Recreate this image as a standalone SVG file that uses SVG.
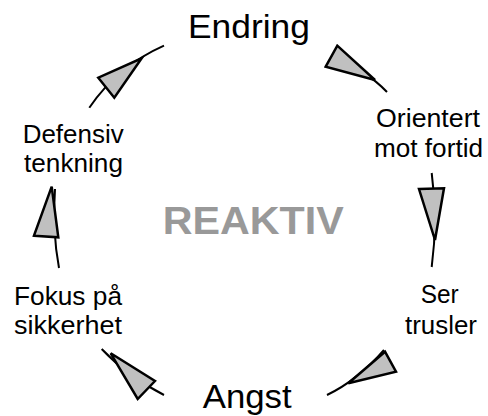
<svg xmlns="http://www.w3.org/2000/svg" width="488" height="416" viewBox="0 0 488 416">
<style>
text{font-family:"Liberation Sans",Arial,sans-serif;fill:#000}
.big{font-size:33px}
.lbl{font-size:25px}
.title{font-size:38px;font-weight:bold;fill:#999999}
.arc{fill:none;stroke:#000;stroke-width:2}
.head{fill:#c0c0c0;stroke:#000;stroke-width:2.5;stroke-linejoin:miter}
</style>
<rect width="488" height="416" fill="#fff"/>
<g id="connectors">
<path class="arc" d="M331,56 Q366,70 387,92"/>
<polygon class="head" points="325.7,66.7 337.3,45.7 375,80"/>
<path class="arc" d="M431.7,173 Q438,220 431.7,267"/>
<polygon class="head" points="419,189 444,188.3 435,240"/>
<path class="arc" d="M384,350 Q358,380 327,395"/>
<polygon class="head" points="385,351.7 396,371.7 348.3,383.3"/>
<path class="arc" d="M164,395 Q127,376 101.7,349"/>
<polygon class="head" points="155,381 137.7,399 110.7,353.3"/>
<path class="arc" d="M59,268 Q52,230 55,189"/>
<polygon class="head" points="34,235.7 58.3,237.3 51.7,186.7"/>
<path class="arc" d="M89.3,107.7 Q118,66 164,45.7"/>
<polygon class="head" points="98.3,77.7 114.3,97.7 141.7,58.3"/>
</g>
<g id="endring"><text class="big" x="188" y="38" textLength="122" lengthAdjust="spacingAndGlyphs">Endring</text></g>
<g id="orientert"><text class="lbl" x="376" y="127" textLength="104" lengthAdjust="spacingAndGlyphs">Orientert</text><text class="lbl" x="374" y="157" textLength="109" lengthAdjust="spacingAndGlyphs">mot fortid</text></g>
<g id="ser-trusler"><text class="lbl" x="420.7" y="303" textLength="38" lengthAdjust="spacingAndGlyphs">Ser</text><text class="lbl" x="405" y="334" textLength="72" lengthAdjust="spacingAndGlyphs">trusler</text></g>
<g id="angst"><text class="big" x="202.7" y="408" textLength="89" lengthAdjust="spacingAndGlyphs">Angst</text></g>
<g id="fokus"><text class="lbl" x="14" y="305" textLength="108" lengthAdjust="spacingAndGlyphs">Fokus på</text><text class="lbl" x="14" y="334" textLength="108" lengthAdjust="spacingAndGlyphs">sikkerhet</text></g>
<g id="defensiv"><text class="lbl" x="22.7" y="143" textLength="101" lengthAdjust="spacingAndGlyphs">Defensiv</text><text class="lbl" x="24" y="171.5" textLength="99" lengthAdjust="spacingAndGlyphs">tenkning</text></g>
<g id="reaktiv"><text class="title" x="162.7" y="234.3" textLength="181" lengthAdjust="spacingAndGlyphs">REAKTIV</text></g>
</svg>
